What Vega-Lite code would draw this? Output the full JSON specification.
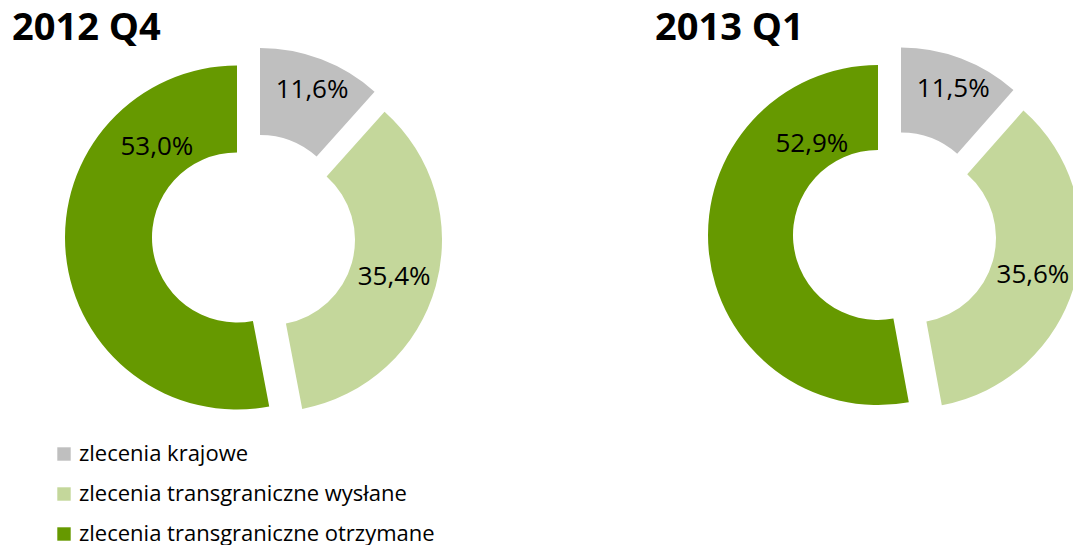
{
  "$schema": "https://vega.github.io/schema/vega-lite/v6.json",
  "padding": {"left": 0, "top": 10, "right": 0, "bottom": 0},
  "background": "white",
  "bounds": "flush",
  "spacing": 209,
  "data": {
    "values": [
      {"kwartal": "2012 Q4", "kategoria": "zlecenia krajowe", "kolejnosc": 1, "udzial": 0.116},
      {"kwartal": "2012 Q4", "kategoria": "zlecenia transgraniczne wysłane", "kolejnosc": 2, "udzial": 0.354},
      {"kwartal": "2012 Q4", "kategoria": "zlecenia transgraniczne otrzymane", "kolejnosc": 3, "udzial": 0.530},
      {"kwartal": "2013 Q1", "kategoria": "zlecenia krajowe", "kolejnosc": 1, "udzial": 0.115},
      {"kwartal": "2013 Q1", "kategoria": "zlecenia transgraniczne wysłane", "kolejnosc": 2, "udzial": 0.356},
      {"kwartal": "2013 Q1", "kategoria": "zlecenia transgraniczne otrzymane", "kolejnosc": 3, "udzial": 0.529}
    ]
  },
  "resolve": {"scale": {"color": "shared", "theta": "independent"}, "legend": {"color": "shared"}},
  "hconcat": [
    {
      "width": 508,
      "height": 380,
      "title": {"text": "2012 Q4", "anchor": "start", "dx": 12, "offset": -32, "baseline": "alphabetic", "fontSize": 38, "font": "Open Sans", "fontWeight": "bold", "color": "#000000"},
      "transform": [
        {"filter": "datum.kwartal === '2012 Q4'"},
        {"stack": "udzial", "groupby": ["kwartal"], "sort": [{"field": "kolejnosc", "order": "ascending"}], "as": ["u0", "u1"]}
      ],
      "layer": [
        {
          "transform": [{"filter": "datum.kolejnosc === 1"}],
          "mark": {"type": "arc", "innerRadius": 85, "outerRadius": 172, "xOffset": 6, "yOffset": -16},
          "encoding": {
            "theta": {"field": "u0", "type": "quantitative", "scale": {"domain": [0, 1]}},
            "theta2": {"field": "u1"},
            "color": {"field": "kategoria", "type": "nominal", "scale": {"domain": ["zlecenia krajowe", "zlecenia transgraniczne wysłane", "zlecenia transgraniczne otrzymane"], "range": ["#BFBFBF", "#C4D79B", "#669900"]}, "legend": {"orient": "none", "legendX": 53, "legendY": 397, "title": null}}
          }
        },
        {
          "transform": [{"filter": "datum.kolejnosc === 2"}],
          "mark": {"type": "arc", "innerRadius": 85, "outerRadius": 172, "xOffset": 16, "yOffset": 4},
          "encoding": {
            "theta": {"field": "u0", "type": "quantitative", "scale": {"domain": [0, 1]}},
            "theta2": {"field": "u1"},
            "color": {"field": "kategoria", "type": "nominal"}
          }
        },
        {
          "transform": [{"filter": "datum.kolejnosc === 3"}],
          "mark": {"type": "arc", "innerRadius": 85, "outerRadius": 172, "xOffset": -17, "yOffset": 1.5},
          "encoding": {
            "theta": {"field": "u0", "type": "quantitative", "scale": {"domain": [0, 1]}},
            "theta2": {"field": "u1"},
            "color": {"field": "kategoria", "type": "nominal"}
          }
        },
        {
          "transform": [{"filter": "datum.kolejnosc === 1"}],
          "mark": {"type": "text", "radius": 157, "thetaOffset": -0.35, "font": "Open Sans", "fontSize": 26, "color": "#000000"},
          "encoding": {
            "theta": {"field": "u1", "type": "quantitative", "scale": {"domain": [0, 1]}},
            "text": {"field": "udzial", "type": "quantitative", "format": ".1%"}
          }
        },
        {
          "transform": [{"filter": "datum.kolejnosc === 2"}],
          "mark": {"type": "text", "radius": 146, "thetaOffset": -1.098, "font": "Open Sans", "fontSize": 26, "color": "#000000"},
          "encoding": {
            "theta": {"field": "u1", "type": "quantitative", "scale": {"domain": [0, 1]}},
            "text": {"field": "udzial", "type": "quantitative", "format": ".1%"}
          }
        },
        {
          "transform": [{"filter": "datum.kolejnosc === 3"}],
          "mark": {"type": "text", "radius": 132, "thetaOffset": -0.827, "font": "Open Sans", "fontSize": 26, "color": "#000000"},
          "encoding": {
            "theta": {"field": "u1", "type": "quantitative", "scale": {"domain": [0, 1]}},
            "text": {"field": "udzial", "type": "quantitative", "format": ".1%"}
          }
        }
      ]
    },
    {
      "width": 356,
      "height": 375,
      "title": {"text": "2013 Q1", "anchor": "start", "dx": -53, "offset": -32, "baseline": "alphabetic", "fontSize": 38, "font": "Open Sans", "fontWeight": "bold", "color": "#000000"},
      "transform": [
        {"filter": "datum.kwartal === '2013 Q1'"},
        {"stack": "udzial", "groupby": ["kwartal"], "sort": [{"field": "kolejnosc", "order": "ascending"}], "as": ["u0", "u1"]}
      ],
      "layer": [
        {
          "transform": [{"filter": "datum.kolejnosc === 1"}],
          "mark": {"type": "arc", "innerRadius": 85, "outerRadius": 170, "xOffset": 6, "yOffset": -16},
          "encoding": {
            "theta": {"field": "u0", "type": "quantitative", "scale": {"domain": [0, 1]}},
            "theta2": {"field": "u1"},
            "color": {"field": "kategoria", "type": "nominal"}
          }
        },
        {
          "transform": [{"filter": "datum.kolejnosc === 2"}],
          "mark": {"type": "arc", "innerRadius": 85, "outerRadius": 170, "xOffset": 16, "yOffset": 4.5, "clip": true},
          "encoding": {
            "theta": {"field": "u0", "type": "quantitative", "scale": {"domain": [0, 1]}},
            "theta2": {"field": "u1"},
            "color": {"field": "kategoria", "type": "nominal"}
          }
        },
        {
          "transform": [{"filter": "datum.kolejnosc === 3"}],
          "mark": {"type": "arc", "innerRadius": 85, "outerRadius": 170, "xOffset": -17, "yOffset": 1.5},
          "encoding": {
            "theta": {"field": "u0", "type": "quantitative", "scale": {"domain": [0, 1]}},
            "theta2": {"field": "u1"},
            "color": {"field": "kategoria", "type": "nominal"}
          }
        },
        {
          "transform": [{"filter": "datum.kolejnosc === 1"}],
          "mark": {"type": "text", "radius": 156, "thetaOffset": -0.34, "font": "Open Sans", "fontSize": 26, "color": "#000000"},
          "encoding": {
            "theta": {"field": "u1", "type": "quantitative", "scale": {"domain": [0, 1]}},
            "text": {"field": "udzial", "type": "quantitative", "format": ".1%"}
          }
        },
        {
          "transform": [{"filter": "datum.kolejnosc === 2"}],
          "mark": {"type": "text", "radius": 144, "thetaOffset": -1.097, "font": "Open Sans", "fontSize": 26, "color": "#000000"},
          "encoding": {
            "theta": {"field": "u1", "type": "quantitative", "scale": {"domain": [0, 1]}},
            "text": {"field": "udzial", "type": "quantitative", "format": ".1%"}
          }
        },
        {
          "transform": [{"filter": "datum.kolejnosc === 3"}],
          "mark": {"type": "text", "radius": 122, "thetaOffset": -0.75, "font": "Open Sans", "fontSize": 26, "color": "#000000"},
          "encoding": {
            "theta": {"field": "u1", "type": "quantitative", "scale": {"domain": [0, 1]}},
            "text": {"field": "udzial", "type": "quantitative", "format": ".1%"}
          }
        }
      ]
    }
  ],
  "config": {
    "view": {"stroke": null},
    "locale": {"number": {"decimal": ",", "thousands": " ", "grouping": [3], "currency": ["", " zł"]}},
    "legend": {
      "symbolType": "square",
      "symbolSize": 180,
      "symbolStrokeWidth": 0,
      "labelFont": "Open Sans",
      "labelFontSize": 22,
      "labelColor": "#000000",
      "labelOffset": 4,
      "labelLimit": 500,
      "rowPadding": 18,
      "padding": 0
    }
  }
}
